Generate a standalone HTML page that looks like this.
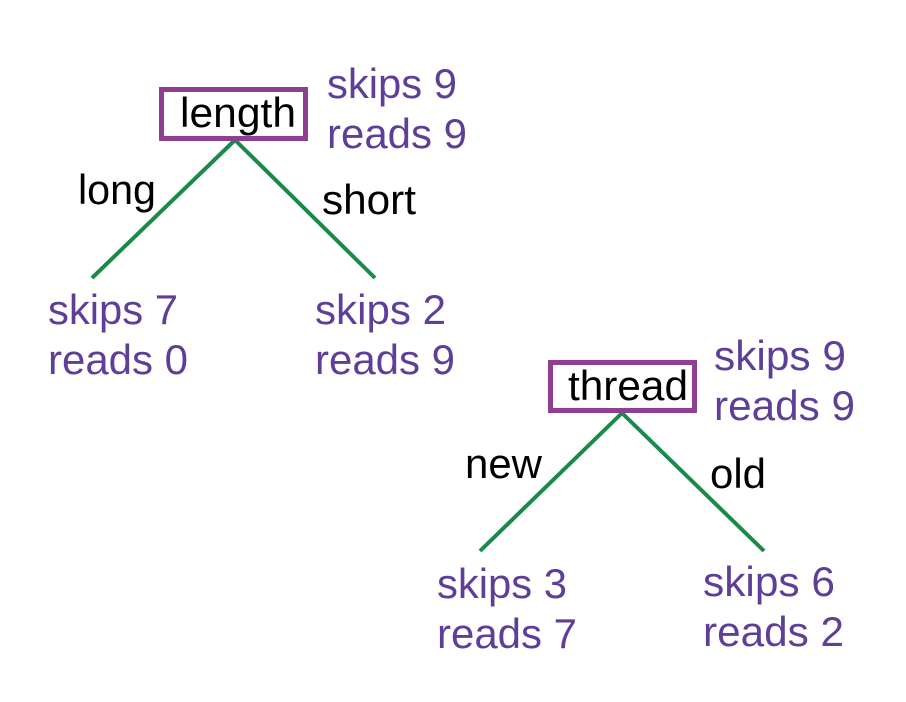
<!DOCTYPE html>
<html><head><meta charset="utf-8"><style>
html,body{margin:0;padding:0;background:#fff;width:906px;height:702px;overflow:hidden}
svg text{font-family:"Liberation Sans",Arial,sans-serif}
.p{fill:#5F3E98;font-size:42px}
.b{fill:#000;font-size:42px}
</style></head><body>
<svg width="906" height="702" viewBox="0 0 906 702" xmlns="http://www.w3.org/2000/svg">
<g stroke="#1A8A4A" stroke-width="4" fill="none">
<line x1="235" y1="140" x2="92" y2="278"/>
<line x1="235" y1="140" x2="375" y2="278"/>
<line x1="622" y1="413" x2="480" y2="551"/>
<line x1="622" y1="413" x2="764" y2="551"/>
</g>
<rect x="161.5" y="89.5" width="144" height="49" fill="#fff" stroke="#8E3F91" stroke-width="5"/>
<rect x="550.5" y="362.5" width="144" height="48" fill="#fff" stroke="#8E3F91" stroke-width="5"/>
<text class="b" x="180" y="127" textLength="116" lengthAdjust="spacingAndGlyphs">length</text>
<text class="b" x="568" y="400" textLength="120" lengthAdjust="spacingAndGlyphs">thread</text>
<text class="b" x="78" y="204" textLength="78" lengthAdjust="spacingAndGlyphs">long</text>
<text class="b" x="322" y="214" textLength="94" lengthAdjust="spacingAndGlyphs">short</text>
<text class="b" x="465" y="478" textLength="77" lengthAdjust="spacingAndGlyphs">new</text>
<text class="b" x="710" y="488" textLength="56" lengthAdjust="spacingAndGlyphs">old</text>

<text class="p" x="327" y="98" textLength="130" lengthAdjust="spacingAndGlyphs">skips 9</text>
<text class="p" x="327" y="148" textLength="140" lengthAdjust="spacingAndGlyphs">reads 9</text>
<text class="p" x="48" y="324" textLength="130" lengthAdjust="spacingAndGlyphs">skips 7</text>
<text class="p" x="48" y="374" textLength="140" lengthAdjust="spacingAndGlyphs">reads 0</text>
<text class="p" x="315" y="324" textLength="131" lengthAdjust="spacingAndGlyphs">skips 2</text>
<text class="p" x="315" y="374" textLength="140" lengthAdjust="spacingAndGlyphs">reads 9</text>
<text class="p" x="714" y="370" textLength="132" lengthAdjust="spacingAndGlyphs">skips 9</text>
<text class="p" x="714" y="420" textLength="141" lengthAdjust="spacingAndGlyphs">reads 9</text>
<text class="p" x="437" y="598" textLength="130" lengthAdjust="spacingAndGlyphs">skips 3</text>
<text class="p" x="437" y="648" textLength="140" lengthAdjust="spacingAndGlyphs">reads 7</text>
<text class="p" x="703" y="596" textLength="132" lengthAdjust="spacingAndGlyphs">skips 6</text>
<text class="p" x="703" y="646" textLength="141" lengthAdjust="spacingAndGlyphs">reads 2</text>
</svg>
</body></html>
